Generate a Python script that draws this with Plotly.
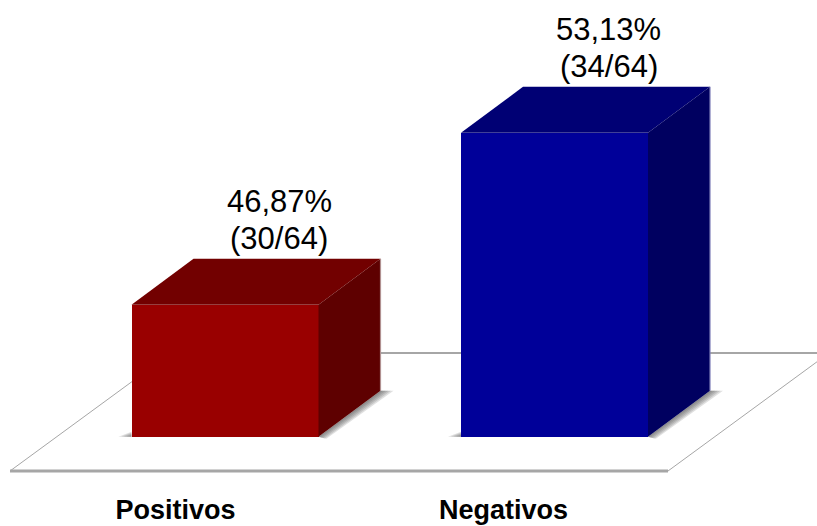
import plotly.graph_objects as go

categories = ["Positivos", "Negativos"]
percent_values = [46.87, 53.13]
percent_labels = ["46,87%", "53,13%"]
count_labels = ["(30/64)", "(34/64)"]
front_colors = ["#990000", "#000099"]
top_colors = ["#720000", "#000074"]
side_colors = ["#5e0000", "#000060"]
edge_colors = ["#b09090", "#7c7cb8"]

# Scale of the drawing (pixels per data unit) and axis set-up
W, H, BOTTOM = 817, 526, 33
PX_X = 329.5
PX_Y = 27.48
X0_PX = 225.0
BASE_PX = 436.7
BASE = 42.07
BAR_W = 187 / PX_X
DX = 62 / PX_X
DY = 46 / PX_Y
plot_h = H - BOTTOM
x_range = [-X0_PX / PX_X, (W - X0_PX) / PX_X]
y_range = [BASE - (plot_h - BASE_PX) / PX_Y, BASE + BASE_PX / PX_Y]


def fx(px):
    return (px - X0_PX) / PX_X


def fy(px):
    return BASE + (BASE_PX - px) / PX_Y


fig = go.Figure()
shapes = []
GRID = "#a6a6a6"


def line(x0, y0, x1, y1, width):
    shapes.append(dict(type="line", xref="x", yref="y", layer="below",
                       x0=fx(x0), y0=fy(y0), x1=fx(x1), y1=fy(y1),
                       line=dict(color=GRID, width=width)))


# floor of the 3D box
line(10, 471, 668, 471, 3)
line(171, 353, 840, 353, 2)
line(10, 471, 171, 353, 1)
line(668, 471, 829, 353, 1)

# soft shadows on the floor
for i in range(len(categories)):
    xl = i - BAR_W / 2
    xr = i + BAR_W / 2
    for k in range(1, 6):
        off = k * 2.6 / PX_X
        drop = k * 1.4 / PX_Y
        path = (f"M {xr} {BASE} L {xr + DX} {BASE + DY} L {xr + DX + off} {BASE + DY} "
                f"L {xr + off * 0.6} {BASE - drop * 0.3} Z")
        shapes.append(dict(type="path", xref="x", yref="y", layer="below", path=path,
                           fillcolor="rgba(60,60,60,0.16)", line=dict(width=0)))
        path2 = (f"M {xl} {BASE} L {xl - off} {BASE} L {xl} {BASE + k * 1.0 / PX_Y} Z")
        shapes.append(dict(type="path", xref="x", yref="y", layer="below", path=path2,
                           fillcolor="rgba(60,60,60,0.16)", line=dict(width=0)))

# front faces
fig.add_trace(go.Bar(
    x=list(range(len(categories))),
    y=[v - BASE for v in percent_values],
    base=BASE,
    width=BAR_W,
    marker=dict(color=front_colors, line=dict(width=0)),
    hoverinfo="skip",
    showlegend=False,
))

# top and side faces, derived from the bar values
for i, v in enumerate(percent_values):
    xl = i - BAR_W / 2
    xr = i + BAR_W / 2
    fig.add_trace(go.Scatter(
        x=[xl, xl + DX, xr + DX, xr, xl],
        y=[v, v + DY, v + DY, v, v],
        mode="lines", fill="toself", fillcolor=top_colors[i],
        line=dict(width=0), hoverinfo="skip", showlegend=False))
    fig.add_trace(go.Scatter(
        x=[xr, xr + DX, xr + DX, xr, xr],
        y=[v, v + DY, BASE + DY, BASE, v],
        mode="lines", fill="toself", fillcolor=side_colors[i],
        line=dict(width=0), hoverinfo="skip", showlegend=False))
    fig.add_trace(go.Scatter(
        x=[xr + DX, xr + DX],
        y=[v + DY, BASE + DY],
        mode="lines", line=dict(width=1.2, color=edge_colors[i]),
        hoverinfo="skip", showlegend=False))

annotations = []
for i, v in enumerate(percent_values):
    for txt, shift in ((percent_labels[i], 103), (count_labels[i], 66)):
        annotations.append(dict(
            x=i, y=v, xref="x", yref="y", text=txt, showarrow=False,
            xshift=54, yshift=shift, xanchor="center", yanchor="middle",
            font=dict(family="Liberation Sans", size=31, color="#000000")))

fig.update_layout(
    width=W, height=H,
    margin=dict(l=0, r=0, t=0, b=BOTTOM, pad=0),
    paper_bgcolor="#ffffff", plot_bgcolor="#ffffff",
    bargap=0,
    shapes=shapes,
    annotations=annotations,
    xaxis=dict(range=x_range, showgrid=False, zeroline=False, showline=False,
               automargin=False, ticklabelstandoff=-2,
               tickmode="array", tickvals=[fx(175.5), fx(503.5)], ticktext=categories,
               ticks="", tickangle=0,
               tickfont=dict(family="Liberation Sans", size=27, color="#000000", weight="bold")),
    yaxis=dict(range=y_range, showgrid=False, zeroline=False, showline=False,
               automargin=False, showticklabels=False, ticks=""),
)

fig.write_html("out.html", config=dict(displayModeBar=False),
               post_script="document.body.style.margin='0';document.documentElement.style.overflow='hidden';")
